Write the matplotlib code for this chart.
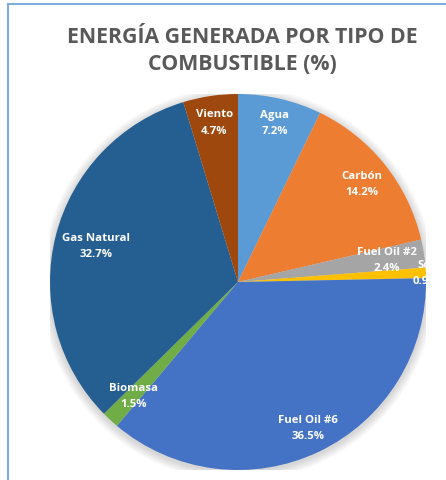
import matplotlib.pyplot as plt
import numpy as np
from matplotlib.patches import Rectangle, Circle

plt.rcParams['font.family'] = ['Open Sans', 'DejaVu Sans']
plt.rcParams['hatch.color'] = '#ececec'
plt.rcParams['hatch.linewidth'] = 1.2

# datos
categorias = ['Agua', 'Carbón', 'Fuel Oil #2', 'Sol', 'Fuel Oil #6',
              'Biomasa', 'Gas Natural', 'Viento']
valores = [7.2, 14.2, 2.4, 0.9, 36.5, 1.5, 32.7, 4.7]
colores = ['#5B9BD5', '#ED7D31', '#A5A5A5', '#FFC000', '#4472C4',
           '#70AD47', '#255E91', '#9E480E']
titulo = 'ENERGÍA GENERADA POR TIPO DE\nCOMBUSTIBLE (%)'

# distancia de cada etiqueta al centro (fraccion del radio)
dist_etiquetas = [0.87, 0.84, 0.80, 1.0, 0.86, 0.82, 0.78, 0.86]

W, H = 446, 481
fig = plt.figure(figsize=(W / 100, H / 100), dpi=100)
fig.patch.set_facecolor('white')

# fondo con rayas y borde azul
bg = fig.add_axes([0, 0, 1, 1])
bg.set_xlim(0, W)
bg.set_ylim(H, 0)
bg.axis('off')
bg.add_patch(Rectangle((8, 5), W, H, facecolor='white', edgecolor='none',
                       hatch='\\\\\\\\'))
bg.plot([8, 8], [5, H], color='#7EAEDD', lw=1.5)
bg.plot([8, W], [5, 5], color='#7EAEDD', lw=1.5)

fig.text(0.543, 1 - 51 / H, titulo, ha='center', va='center',
         fontsize=15.3, fontweight='bold', color='#595959', linespacing=1.4)

# pastel
cx, cy, r = 238, 283, 188
ax = fig.add_axes([(cx - r) / W, (H - cy - r) / H, 2 * r / W, 2 * r / H])

# sombra suave
for i in range(8):
    ax.add_patch(Circle((0.0, -0.01), 1.0 + 0.006 * (i + 1), color='#000000',
                        alpha=0.018, lw=0, zorder=0))

wedges, _ = ax.pie(valores, colors=colores, startangle=90, counterclock=False,
                   radius=1.0, wedgeprops=dict(linewidth=0))
for w in wedges:
    w.set_zorder(2)

for w, cat, val, d in zip(wedges, categorias, valores, dist_etiquetas):
    ang = np.deg2rad((w.theta1 + w.theta2) / 2)
    x, y = d * np.cos(ang), d * np.sin(ang)
    ax.text(x, y, f'{cat}\n{val}%', ha='center', va='center', color='white',
            fontsize=8.2, fontweight='bold', linespacing=1.65, zorder=5)

ax.set_xlim(-1, 1)
ax.set_ylim(-1, 1)
ax.set_aspect('equal')
ax.axis('off')

fig.savefig('out.png', dpi=100)
